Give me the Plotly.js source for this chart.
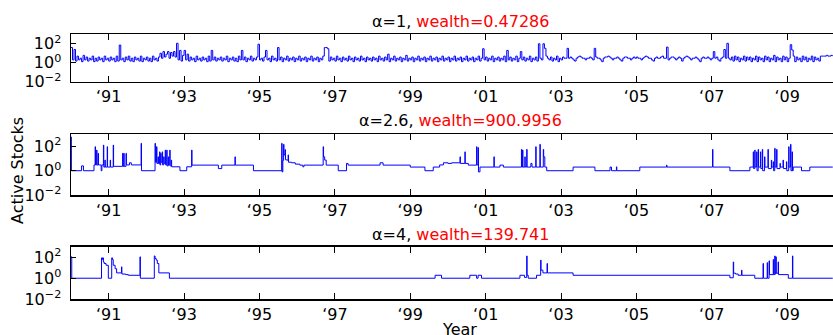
<!DOCTYPE html>
<html>
<head>
<meta charset="utf-8">
<script src="https://cdn.plot.ly/plotly-3.0.1.min.js"></script>
<style>
html,body{margin:0;padding:0;overflow:hidden;background:#fff;}
#chart{width:849px;height:335px;}
</style>
</head>
<body>
<div id="chart"></div>
<script>
// ---------- data ----------
const tickYears  = [1991,1993,1995,1997,1999,2001,2003,2005,2007,2009];
const tickLabels = ['\u201891','\u201893','\u201895','\u201897','\u201899','\u201801','\u201803','\u201805','\u201807','\u201809'];
const yTickVals  = [0.01, 1, 100];
const yTickText  = ['10<sup>\u22122</sup>','10<sup>0</sup>','10<sup>2</sup>'];

const titles = [
  {alpha:'\u03b1=1',   wealth:'wealth=0.47286'},
  {alpha:'\u03b1=2.6', wealth:'wealth=900.9956'},
  {alpha:'\u03b1=4',   wealth:'wealth=139.741'}
];

// alpha = 1 : sampled every 0.04 year starting 1990.0 (one row per year)
const a1Start = 1990.0, a1Step = 0.04;
const a1Values = [
  40,2,25,1.5,5,2,3,1.3,6,2,4,1.5,3,2,5,1.3,3,1.5,4,2,3,1.3,5,2,3,
  1.5,4,2,3,1.3,5,1.5,74,2,3,1.3,4,2,5,1.5,3,1.3,4,2,3,1.5,5,1.3,3,2,
  4,1.5,3,1.3,5,2,3,1.5,4,10,3,15,4,8,15,3,12,5,15,4,112,2,20,1.5,6,
  20,2,8,1.5,4,2,3,1.3,5,2,3,1.5,4,2,3,1.3,5,1.5,20,2,4,1.5,3,2,4,
  1.5,3,2,5,1.3,3,2,4,1.5,3,1.3,5,2,20,2,4,1.3,3,2,5,1.5,3,2,4,90,
  2,3,1.5,4,20,2,3,1.3,5,2,3,1.5,40,2,4,1.3,3,2,5,1.5,3,2,4,1.3,3,
  2,5,1.5,3,2,4,1.3,3,2,5,1.5,3,2,4,1.3,3,2,5,40,40,30,1.5,4,2,3,
  1.5,5,2,3,1.3,4,2,3,1.5,5,2,3,1.3,4,2,3,1.5,5,2,3,1.3,4,2,3,1.5,
  4,2,3,1.3,5,2,3,1.5,4,2,8,1.3,3,2,5,1.5,3,2,4,1.3,3,2,6,1.5,3,
  2,4,1.3,3,2,5,1.5,3,2,4,1.3,3,2,5,1.5,3,2,4,1.3,3,2,5,1.5,3,2,
  4,1.3,3,2,5,1.5,3,2,4,1.3,3,2,5,1.5,3,2,4,1.3,3,2,5,1.5,3,30,2,
  4,1.5,3,2,5,1.3,3,2,4,1.5,3,2,5,1.3,20,2,4,1.5,3,2,5,1.3,3,15,2,
  4,1.5,3,2,5,1.3,3,2,4,1.5,100,3,2,100,33,5,3,2,4,1.5,3,2,5,1.3,3,
  2,4,3,3,33,3,4,3,2,1.5,3,4,5,4,3,3,2,3,3,4,3,2,33,4,3,
  3,2,1.3,3,4,4,5,4,3,2,3,3,4,3,2,1.5,3,4,4,3,3,2,3,4,3,
  4,3,3,2,3,4,5,4,3,3,2,1.5,3,4,3,3,4,5,3,3,45,2,3,4,4,
  3,2,3,4,3,1.5,3,4,5,4,3,2,3,3,4,3,2,1.3,3,4,3,3,4,3,2,
  3,15,3,4,2,1.5,3,4,25,3,112,3,2,4,1.5,5,2,4,1.3,3,2,5,1.5,4,2,
  4,1.3,3,2,5,1.3,4,2,3,1.3,5,2,4,1.3,3,2,6,1.3,4,2,3,1.3,5,2,4,
  1.3,3,80,22,5,1.3,4,2,3,1.3,5,2,4,1.3,3,2,5,1.3,4,2,3,1.5,5,5,5,
  5,6,5,5,6,5
];

// alpha = 2.6 : change points (year, active stocks), held until next point
const a2Years = [
  1990.00,1990.01,1990.28,1990.33,1990.61,1990.64,1990.65,1990.68,1990.69,1990.72,1990.73,1990.80,1990.82,
  1990.86,1990.87,1990.90,1990.91,1990.96,1990.97,1991.04,1991.05,1991.12,1991.13,1991.37,1991.38,1991.40,1991.41,
  1991.46,1991.47,1991.55,1991.60,1991.86,1991.87,1992.23,1992.24,1992.27,1992.28,1992.31,1992.32,1992.35,1992.36,
  1992.38,1992.39,1992.42,1992.43,1992.46,1992.47,1992.50,1992.51,1992.54,1992.55,1992.58,1992.59,1992.62,1992.63,
  1992.66,1992.67,1992.89,1993.07,1993.20,1993.21,1993.91,1994.00,1994.35,1994.36,1994.84,
  1995.59,1995.60,1995.62,1995.64,1995.65,1995.68,1995.69,1995.72,1995.76,1995.77,1995.85,1995.95,1996.07,
  1996.15,1996.18,1996.69,1996.70,1996.73,1996.77,1997.09,1997.31,1997.35,1998.20,1998.28,
  1999.00,1999.39,1999.61,1999.78,1999.88,2000.00,2000.10,2000.32,2000.33,2000.45,2000.46,2000.54,
  2000.76,2000.77,2000.80,2000.81,2000.85,2001.22,2001.23,2001.38,2001.47,2001.95,2001.96,2001.98,2001.99,
  2002.04,2002.05,2002.09,2002.10,2002.20,2002.23,2002.33,2002.34,2002.44,2002.45,2002.53,2002.54,2002.57,2002.62,
  2003.32,2003.90,2004.30,2004.34,2004.47,2004.48,2005.09,2005.80,2005.81,2007.02,2007.03,2007.48,2008.01,
  2008.10,2008.11,2008.14,2008.15,2008.19,2008.20,2008.23,2008.24,2008.29,2008.30,2008.34,2008.35,2008.40,2008.41,
  2008.49,2008.50,2008.58,2008.59,2008.63,2008.64,2008.67,2008.68,2008.72,2008.73,2008.81,2008.82,2008.89,2008.90,
  2008.98,2008.99,2009.04,2009.05,2009.09,2009.10,2009.13,2009.14,2009.16,2009.38,2009.60,2010.21
];
const a2Values = [
  600,1,2.5,1,3,95,3,50,3,27,3,1,3,
  130,2,7.5,2,95,2,7.5,2,130,2.3,27,2.3,27,2.3,
  27,3,4.5,3,180,1,180,5,95,4,14,4,36,3,
  27,5,36,3,14,4,50,3,50,2.5,14,3,50,2.5,
  7.5,2.1,1,2.1,50,2.9,1.5,2.9,14,2.9,1,
  180,0.8,7,150,20,55,8,7.5,20,5,4.5,3.5,2.9,
  2.1,2.9,95,14,7.5,2.9,1,4,2.9,4.5,2.9,
  2,1,2,3,4.5,4,4.5,14,4,36,4,2.9,
  95,3,80,0.8,2,14,2,2.9,2,57,2,50,2,
  14,2,57,2,4,2,95,2,150,2,57,14,2,1,
  2,1,2,1,2.1,1,2,2.9,2,57,2,1,2,
  36,1.5,50,2,36,1,57,2,36,1.5,57,1,14,2,
  57,1.5,7.5,2,5.5,1,70,2,57,1.5,4,2,7.5,1.5,
  5.5,1,95,2,150,1,36,1,2,1,2,2
];

// alpha = 4 : change points (year, active stocks), held until next point
const a3Years = [
  1990.00,1990.02,1990.81,1990.83,1990.84,1990.86,1990.88,1990.93,1990.99,1991.08,1991.10,1991.12,1991.17,
  1991.21,1991.34,1991.35,1991.45,1991.52,1991.83,1991.84,1992.21,1992.23,1992.26,1992.29,1992.33,1992.61,
  1999.66,1999.83,2000.58,2000.76,2000.80,2000.89,2001.91,2002.03,2002.09,2002.10,2002.13,2002.35,
  2002.46,2002.47,2002.52,2002.63,2002.64,2003.32,2007.48,2007.57,2007.58,2007.63,2007.70,2007.79,2007.80,
  2008.14,2008.36,2008.37,2008.47,2008.48,2008.52,2008.53,2008.63,2008.64,2008.67,2008.68,2008.70,2008.71,
  2008.76,2008.77,2009.03,2009.14,2009.15,2010.21
];
const a3Values = [
  107,1,85,60,85,35,25,17,1,85,60,17,8,
  3.2,12,2.5,2.2,1.9,107,1,130,75,52,25,3.2,1,
  1.9,1,1.9,1,1.9,1,1.9,1.2,130,1.9,1,1.9,
  52,5.8,3.2,25,3.2,1.9,1.1,35,3,2.5,1.9,5.8,1.9,
  1,25,1,30,1,45,2.2,60,2.2,130,2.5,107,3,
  35,2.2,1,130,1,1
];

// ---------- build ----------
const a1Years = a1Values.map((v,i)=> a1Start + i*a1Step);

const lineStyle = {color:'#0000ff', width:1, shape:'hv'};
const traces = [
  {x:a1Years, y:a1Values, type:'scatter', mode:'lines', line:lineStyle, xaxis:'x',  yaxis:'y',  hoverinfo:'skip'},
  {x:a2Years, y:a2Values, type:'scatter', mode:'lines', line:lineStyle, xaxis:'x2', yaxis:'y2', hoverinfo:'skip'},
  {x:a3Years, y:a3Values, type:'scatter', mode:'lines', line:lineStyle, xaxis:'x3', yaxis:'y3', hoverinfo:'skip'}
];

const H = 335;
const panels = [ [34.3, 81.7], [134.3, 195.0], [246.6, 299.3] ];
const titleMid = [21.2, 120.8, 234.6];
const fnt = 'DejaVu Sans, sans-serif';

function xAx(anchor){
  return {anchor:anchor, domain:[0,1], range:[1990.0, 2010.64],
    tickmode:'array', tickvals:tickYears, ticktext:tickLabels,
    ticks:'inside', ticklen:6, tickwidth:1, tickcolor:'#000',
    showline:true, linecolor:'#000', linewidth:1.5, mirror:'ticks',
    showgrid:false, zeroline:false, ticklabelstandoff:0,
    tickfont:{family:fnt, size:16, color:'#000'}, fixedrange:true};
}
function yAx(anchor, p){
  return {anchor:anchor, type:'log', range:[-2,3], domain:[1-p[1]/H, 1-p[0]/H],
    tickmode:'array', tickvals:yTickVals, ticktext:yTickText,
    ticks:'inside', ticklen:5, tickwidth:1, tickcolor:'#000',
    showline:true, linecolor:'#000', linewidth:1.5, mirror:'ticks',
    showgrid:false, zeroline:false, ticklabelstandoff:5,
    tickfont:{family:fnt, size:16, color:'#000'}, fixedrange:true};
}

const annotations = titles.map((t,i)=>({
  xref:'paper', yref:'paper', x:0.5, y:1-titleMid[i]/H, xanchor:'center', yanchor:'middle',
  showarrow:false, text: t.alpha + ', <span style="color:#ff0000">' + t.wealth + '</span>',
  font:{family:fnt, size:16, color:'#000'}
}));
annotations.push({xref:'paper', yref:'paper', x:(17-71)/778, y:1-170/H, xanchor:'center', yanchor:'middle',
  textangle:-90, showarrow:false, text:'Active Stocks', font:{family:fnt, size:16, color:'#000'}});
annotations.push({xref:'paper', yref:'paper', x:(459-71)/778, y:1-329/H, xanchor:'center', yanchor:'middle',
  showarrow:false, text:'Year', font:{family:fnt, size:16, color:'#000'}});

const layout = {
  width:849, height:335,
  margin:{l:71, r:0, t:0, b:0, pad:0},
  paper_bgcolor:'#fff', plot_bgcolor:'#fff',
  showlegend:false,
  font:{family:fnt, size:16, color:'#000'},
  xaxis:xAx('y'), xaxis2:xAx('y2'), xaxis3:xAx('y3'),
  yaxis:yAx('x',panels[0]), yaxis2:yAx('x2',panels[1]), yaxis3:yAx('x3',panels[2]),
  annotations:annotations
};

Plotly.newPlot('chart', traces, layout, {staticPlot:true, displayModeBar:false});
</script>
</body>
</html>
